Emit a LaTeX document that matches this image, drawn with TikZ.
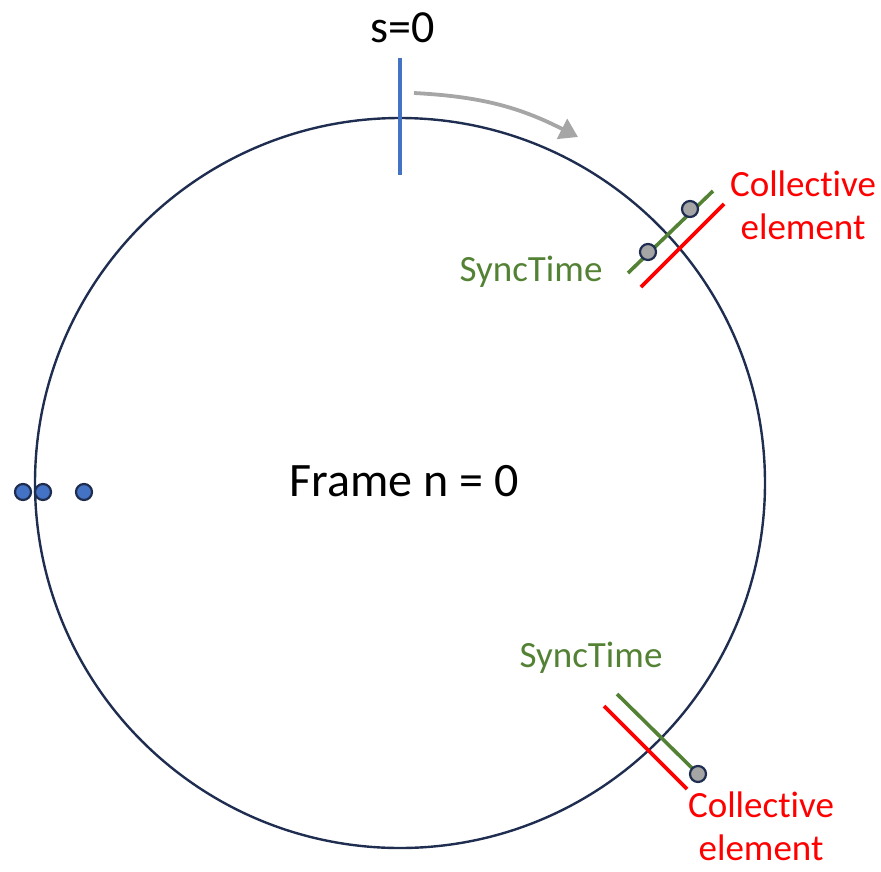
\documentclass[tikz,border=0pt]{standalone}
\usepackage{fontspec}
\setmainfont{Carlito}[RawFeature=-liga]
\usetikzlibrary{arrows.meta}

\definecolor{ringnavy}{HTML}{1F2E50}
\definecolor{startblue}{HTML}{4472C4}
\definecolor{syncgreen}{HTML}{548235}
\definecolor{elemred}{HTML}{FF0000}
\definecolor{arrowgray}{HTML}{A6A6A6}
\definecolor{markgray}{HTML}{A5A5A5}

\tikzset{
  ring/.style={draw=ringnavy, line width=2.4pt},
  syncline/.style={draw=syncgreen, line width=3.6pt},
  elemline/.style={draw=elemred, line width=3.6pt},
  syncmark/.style={circle, draw=ringnavy, fill=markgray, line width=2.2pt,
    inner sep=0pt, minimum size=16pt},
  itemdot/.style={circle, draw=ringnavy, fill=startblue, line width=2.2pt,
    inner sep=0pt, minimum size=16pt},
  synclabel/.style={text=syncgreen, inner sep=0pt, font=\fontsize{37}{44}\selectfont},
  elemlabel/.style={text=elemred, align=center, inner sep=0pt,
    font=\fontsize{37}{43}\selectfont},
}

\begin{document}
\begin{tikzpicture}[x=1pt, y=-1pt]

    \useasboundingbox (0,0) rectangle (881,871);

    % Frame circle
    \draw[ring] (400,483) circle[radius=365];
    \node[font=\fontsize{48}{56}\selectfont] (frame) at (404,481) {Frame n = 0};

    % Start marker s=0
    \coordinate (s0top) at (400,58);
    \coordinate (s0bot) at (400,175);
    \draw[draw=startblue, line width=3.8pt] (s0top) -- (s0bot);
    \node[font=\fontsize{46}{52}\selectfont, anchor=base] (s0) at (403,42) {s=0};

    % Direction of travel
    \coordinate (dirA) at (414,93);
    \coordinate (dirB) at (578,137);
    \draw[draw=arrowgray, line width=3.8pt,
      -{Triangle[length=18pt, width=22pt]}] (dirA) to[bend left=12] (dirB);

    % Upper sync point
    \coordinate (g1a) at (628,273);
    \coordinate (g1b) at (713,191);
    \coordinate (r1a) at (641,287);
    \coordinate (r1b) at (724,204);
    \draw[syncline] (g1a) -- (g1b);
    \draw[elemline] (r1a) -- (r1b);
    \node[syncmark] (m1) at (648,252) {};
    \node[syncmark] (m2) at (690,209) {};
    \node[synclabel] (sync1) at (531,272) {SyncTime};
    \node[elemlabel] (elem1) at (803,205) {Collective\\element};

    % Lower sync point
    \coordinate (g2a) at (617,694);
    \coordinate (g2b) at (694,770);
    \coordinate (r2a) at (604,706);
    \coordinate (r2b) at (687,789);
    \draw[syncline] (g2a) -- (g2b);
    \draw[elemline] (r2a) -- (r2b);
    \node[syncmark] (m3) at (698,774) {};
    \node[synclabel] (sync2) at (591,658) {SyncTime};
    \node[elemlabel] (elem2) at (761,826) {Collective\\element};

    % Items waiting at the left
    \foreach \x/\name in {23/d1, 43/d2, 84/d3}
    \node[itemdot] (\name) at (\x,492) {};

\end{tikzpicture}
\end{document}
